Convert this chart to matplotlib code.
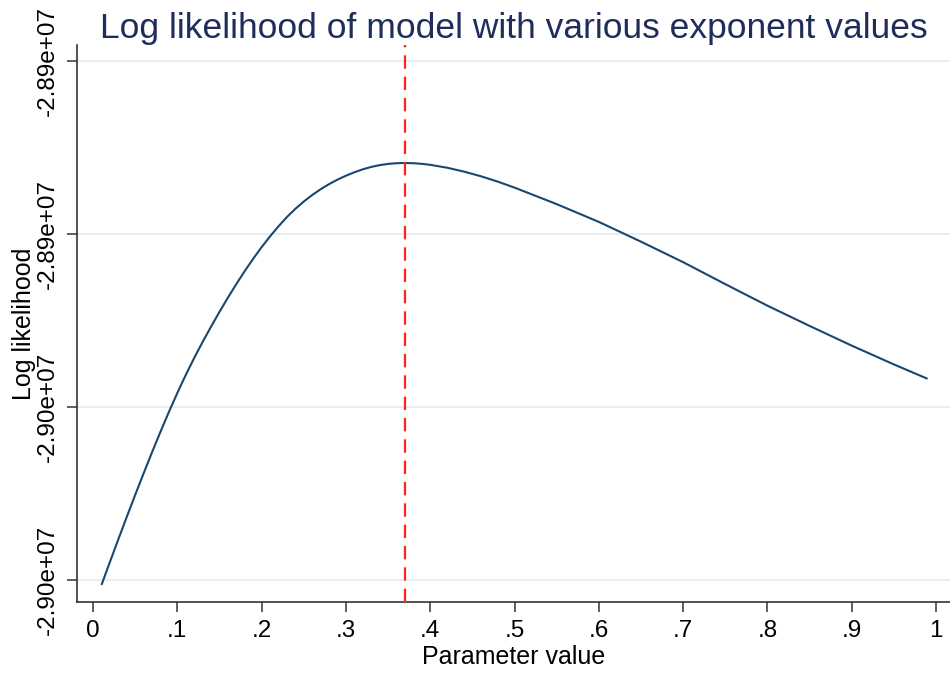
import matplotlib
matplotlib.use("Agg")
import matplotlib.pyplot as plt
from matplotlib.ticker import FuncFormatter

# Exponent values tried and the resulting model log likelihood
param = [0.01, 0.02, 0.03, 0.04, 0.05, 0.06, 0.07, 0.08, 0.09, 0.10,
         0.11, 0.12, 0.13, 0.14, 0.15, 0.16, 0.17, 0.18, 0.19, 0.20,
         0.21, 0.22, 0.23, 0.24, 0.25, 0.26, 0.27, 0.28, 0.29, 0.30,
         0.31, 0.32, 0.33, 0.34, 0.35, 0.36, 0.37, 0.38, 0.39, 0.40,
         0.42, 0.44, 0.46, 0.48, 0.50, 0.55, 0.60, 0.65, 0.70, 0.75,
         0.80, 0.85, 0.90, 0.95, 0.99]
loglik = [-29001150, -28995840, -28990590, -28985410, -28980320, -28975330,
          -28970450, -28965710, -28961130, -28956740, -28952580, -28948650,
          -28944950, -28941410, -28937990, -28934700, -28931560, -28928550,
          -28925710, -28923030, -28920530, -28918220, -28916070, -28914170,
          -28912490, -28910980, -28909640, -28908460, -28907420, -28906520,
          -28905730, -28905040, -28904490, -28904070, -28903790, -28903630,
          -28903580, -28903630, -28903770, -28904000, -28904670, -28905570,
          -28906640, -28907880, -28909270, -28913090, -28917200, -28921770,
          -28926510, -28931590, -28936570, -28941250, -28945810, -28950150,
          -28953480]

best_param = 0.37

x_ticks = [0, 0.1, 0.2, 0.3, 0.4, 0.5, 0.6, 0.7, 0.8, 0.9, 1.0]
x_tick_labels = ["0", ".1", ".2", ".3", ".4", ".5", ".6", ".7", ".8", ".9", "1"]
y_ticks = [-29000000, -28960000, -28920000, -28880000]

plt.rcParams["font.family"] = ["Liberation Sans", "DejaVu Sans"]

fig = plt.figure(figsize=(9.5, 6.73), dpi=100)
ax = fig.add_axes([0.0811, 0.1055, 0.9189, 0.8276])

ax.plot(param, loglik, color="#1a476f", lw=1.5, solid_capstyle="butt",
        solid_joinstyle="round", zorder=3)
ax.axvline(best_param, color="#ff2020", lw=1.6, dashes=(6, 3.6), zorder=4)

ax.set_xlim(-0.019, 1.0166)
ax.set_ylim(-29005090, -28876300)

ax.set_xticks(x_ticks)
ax.set_xticklabels(x_tick_labels)
ax.set_yticks(y_ticks)
ax.yaxis.set_major_formatter(FuncFormatter(lambda v, p: f"{v:.2e}"))

ax.grid(axis="y", color="#e6eef1", lw=1.3, zorder=0)
ax.set_axisbelow(True)

for side in ("top", "right"):
    ax.spines[side].set_visible(False)
for side in ("left", "bottom"):
    ax.spines[side].set_color("#333333")
    ax.spines[side].set_linewidth(1.2)

ax.tick_params(axis="both", length=7, width=1.1, color="#333333",
               labelsize=17.5, labelcolor="black", pad=6)
ax.tick_params(axis="y", labelrotation=90)
for lab in ax.get_yticklabels():
    lab.set_va("center")

ax.set_xlabel("Parameter value", fontsize=18, labelpad=2)
ax.set_ylabel("Log likelihood", fontsize=18, labelpad=1)
ax.set_title("Log likelihood of model with various exponent values",
             fontsize=25.5, color="#1e2d5c", pad=5)

fig.savefig("out.png", dpi=100, facecolor="white")
